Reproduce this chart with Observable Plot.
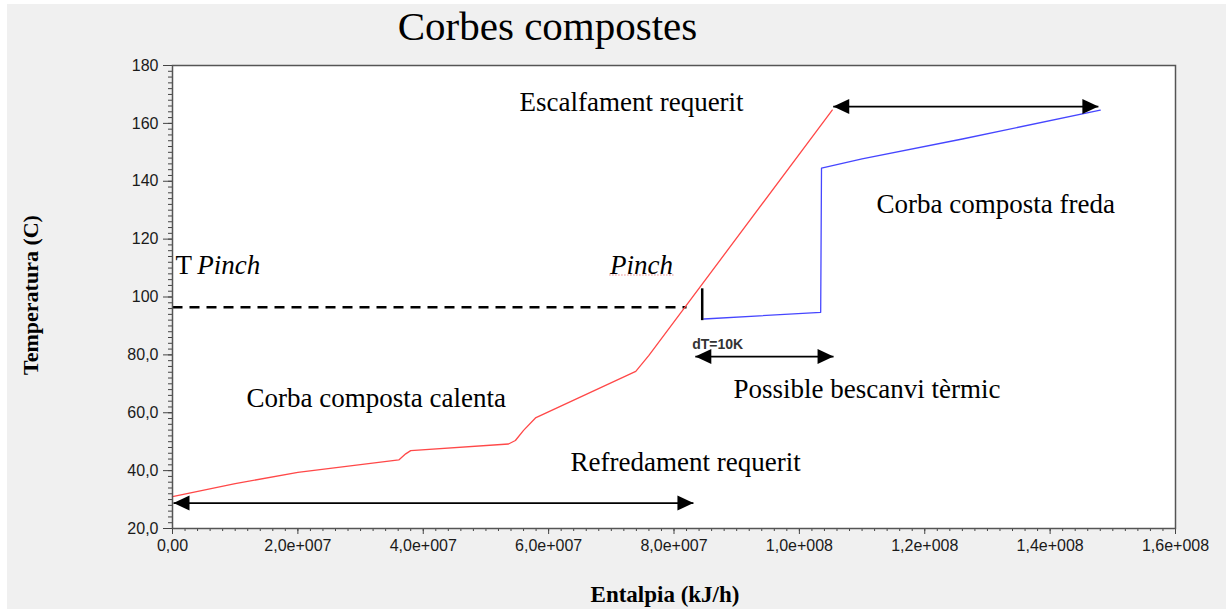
<!DOCTYPE html>
<html><head><meta charset="utf-8">
<script src="https://cdn.jsdelivr.net/npm/d3@7"></script>
<script src="https://cdn.jsdelivr.net/npm/@observablehq/plot@0.6"></script>
<style>html,body{margin:0;padding:0;background:#fff;overflow:hidden}</style>
</head><body><div id="chart"></div>
<script>
// ---- data ----
const title = "Corbes compostes";
const xLabel = "Entalpia (kJ/h)";
const yLabel = "Temperatura (C)";

// hot composite curve (Corba composta calenta)
const hotH = [0, 1.0e7, 2.0e7, 3.61e7, 3.72e7, 3.8e7, 5.36e7, 5.47e7, 5.6e7, 5.79e7, 7.39e7, 7.6e7, 1.0524e8];
const hotT = [31.0, 35.5, 39.4, 43.7, 45.8, 46.9, 49.2, 50.4, 53.9, 58.2, 74.3, 79.8, 164.6];

// cold composite curve (Corba composta freda)
const coldH = [8.475e7, 1.034e8, 1.0353e8, 1.10e8, 1.26e8, 1.48e8];
const coldT = [92.4, 94.7, 144.5, 147.7, 154.6, 164.6];

const xTicks = [0, 2e7, 4e7, 6e7, 8e7, 1e8, 1.2e8, 1.4e8, 1.6e8];
const yTicks = [20, 40, 60, 80, 100, 120, 140, 160, 180];

// pinch
const tPinch = 96.5;
const tPinchEndH = 8.2e7;
const pinchH = 8.45e7;
const pinchTLow = 92.0;
const pinchTHigh = 103.0;

// double arrows
const arrowH1 = [1.054e8, 1.6e5, 8.34e7];
const arrowH2 = [1.477e8, 8.31e7, 1.0545e8];
const arrowT = [165.8, 28.8, 79.4];

// annotations
const noteTexts = ["Escalfament requerit", "Corba composta freda", "Corba composta calenta", "Refredament requerit", "Possible bescanvi tèrmic"];
const noteH = [5.535e7, 1.123e8, 1.18e7, 6.35e7, 8.95e7];
const noteT = [167.3, 131.9, 65.0, 42.9, 68.2];
const tPinchLabel = ["T", "Pinch"];
const tPinchLabelH = [4.8e5, 3.94e6];
const pinchLabel = "Pinch";
const pinchLabelH = 6.98e7;
const labelT = 111.0;
const dTLabel = "dT=10K";
const dTLabelH = 8.29e7;
const dTLabelT = 83.6;

// ---- build ----
const hot = hotH.map((h, i) => ({h, t: hotT[i]}));
const cold = coldH.map((h, i) => ({h, t: coldT[i]}));
const arrows = arrowH1.map((h1, i) => ({h1, h2: arrowH2[i], t: arrowT[i]}));
const notes = noteTexts.map((s, i) => ({s, h: noteH[i], t: noteT[i]}));

const minorX = d3.range(0, 1.6e8 + 1, 2e6);
const minorY = d3.range(20, 181, 2);

const fmtX = d => {
  if (d === 0) return "0,00";
  const e = Math.floor(Math.log10(d) + 1e-9);
  const m = d / Math.pow(10, e);
  return m.toFixed(1).replace(".", ",") + "e+" + String(e).padStart(3, "0");
};
const fmtY = d => d >= 100 ? String(d) : d.toFixed(1).replace(".", ",");

const serif = "'Liberation Serif','Times New Roman',serif";
const sans = "'Liberation Sans',Arial,sans-serif";

const headLeft = {draw(ctx) { ctx.moveTo(0, 0); ctx.lineTo(16, -7.5); ctx.lineTo(16, 7.5); ctx.closePath(); }};
const headRight = {draw(ctx) { ctx.moveTo(0, 0); ctx.lineTo(-16, -7.5); ctx.lineTo(-16, 7.5); ctx.closePath(); }};

const chart = Plot.plot({
  width: 1226,
  height: 609,
  marginLeft: 172,
  marginRight: 51,
  marginTop: 65,
  marginBottom: 81,
  style: {
    background: "linear-gradient(#f0f0f0,#f0f0f0) 7px 4px / 1219px 605px no-repeat white",
    fontFamily: sans,
    overflow: "visible"
  },
  x: {domain: [0, 1.6e8]},
  y: {domain: [20, 180]},
  marks: [
    Plot.frame({fill: "white", stroke: null}),
    Plot.axisX({ticks: minorX, tickSize: 3, tickFormat: () => "", label: null, stroke: "#444"}),
    Plot.axisX({ticks: xTicks, tickSize: 6, tickPadding: 5, tickFormat: fmtX, label: null, stroke: "#444", fill: "#1a1a1a", fontSize: 16, fontFamily: sans}),
    Plot.axisY({ticks: minorY, tickSize: 4, tickFormat: () => "", label: null, stroke: "#444"}),
    Plot.axisY({ticks: yTicks, tickSize: 9, tickPadding: 5, tickFormat: fmtY, label: null, stroke: "#444", fill: "#1a1a1a", fontSize: 16, fontFamily: sans}),
    // pinch dashed line
    Plot.link([{h1: 0, h2: tPinchEndH, t: tPinch}], {x1: "h1", x2: "h2", y1: "t", y2: "t", stroke: "black", strokeWidth: 2.5, strokeDasharray: "10,7"}),
    // curves
    Plot.line(hot, {x: "h", y: "t", stroke: "#ff4848", strokeWidth: 1.3}),
    Plot.line(cold, {x: "h", y: "t", stroke: "#4646ff", strokeWidth: 1.3}),
    // pinch marker
    Plot.link([{h: pinchH, t1: pinchTLow, t2: pinchTHigh}], {x1: "h", x2: "h", y1: "t1", y2: "t2", stroke: "black", strokeWidth: 2.5}),
    // double arrows
    Plot.link(arrows, {x1: "h1", x2: "h2", y1: "t", y2: "t", stroke: "black", strokeWidth: 1.8}),
    Plot.dot(arrows, {x: "h1", y: "t", symbol: headLeft, fill: "black", stroke: null}),
    Plot.dot(arrows, {x: "h2", y: "t", symbol: headRight, fill: "black", stroke: null}),
    // annotations
    Plot.text(notes, {x: "h", y: "t", text: "s", textAnchor: "start", fontFamily: serif, fontSize: 27, fill: "black"}),
    Plot.text([tPinchLabel[0]], {x: tPinchLabelH[0], y: labelT, text: d => d, textAnchor: "start", fontFamily: serif, fontSize: 27, fill: "black"}),
    Plot.text([tPinchLabel[1]], {x: tPinchLabelH[1], y: labelT, text: d => d, textAnchor: "start", fontFamily: serif, fontStyle: "italic", fontSize: 27, fill: "black"}),
    Plot.text([pinchLabel], {x: pinchLabelH, y: labelT, text: d => d, textAnchor: "start", fontFamily: serif, fontStyle: "italic", fontSize: 27, fill: "black"}),
    Plot.link([{h1: 6.97e7, h2: 7.99e7, t: 107.6}], {x1: "h1", x2: "h2", y1: "t", y2: "t", stroke: "#e05050", strokeWidth: 1, strokeDasharray: "1,2"}),
    Plot.text([dTLabel], {x: dTLabelH, y: dTLabelT, text: d => d, textAnchor: "start", fontFamily: sans, fontWeight: "bold", fontSize: 14, fill: "#333"}),
    // title and axis titles
    Plot.text([title], {frameAnchor: "top-left", dx: 375, dy: -39, textAnchor: "middle", lineAnchor: "middle", text: d => d, fontFamily: serif, fontSize: 41, fill: "black"}),
    Plot.text([yLabel], {frameAnchor: "left", dx: -142, dy: -2, rotate: -90, textAnchor: "middle", lineAnchor: "middle", text: d => d, fontFamily: serif, fontWeight: "bold", fontSize: 22, fill: "black"}),
    Plot.text([xLabel], {frameAnchor: "bottom", dx: -9, dy: 66, textAnchor: "middle", lineAnchor: "middle", text: d => d, fontFamily: serif, fontWeight: "bold", fontSize: 23, fill: "black"}),
    Plot.frame({stroke: "#555", strokeWidth: 1.5})
  ]
});
document.getElementById("chart").appendChild(chart);
</script>
</body></html>
